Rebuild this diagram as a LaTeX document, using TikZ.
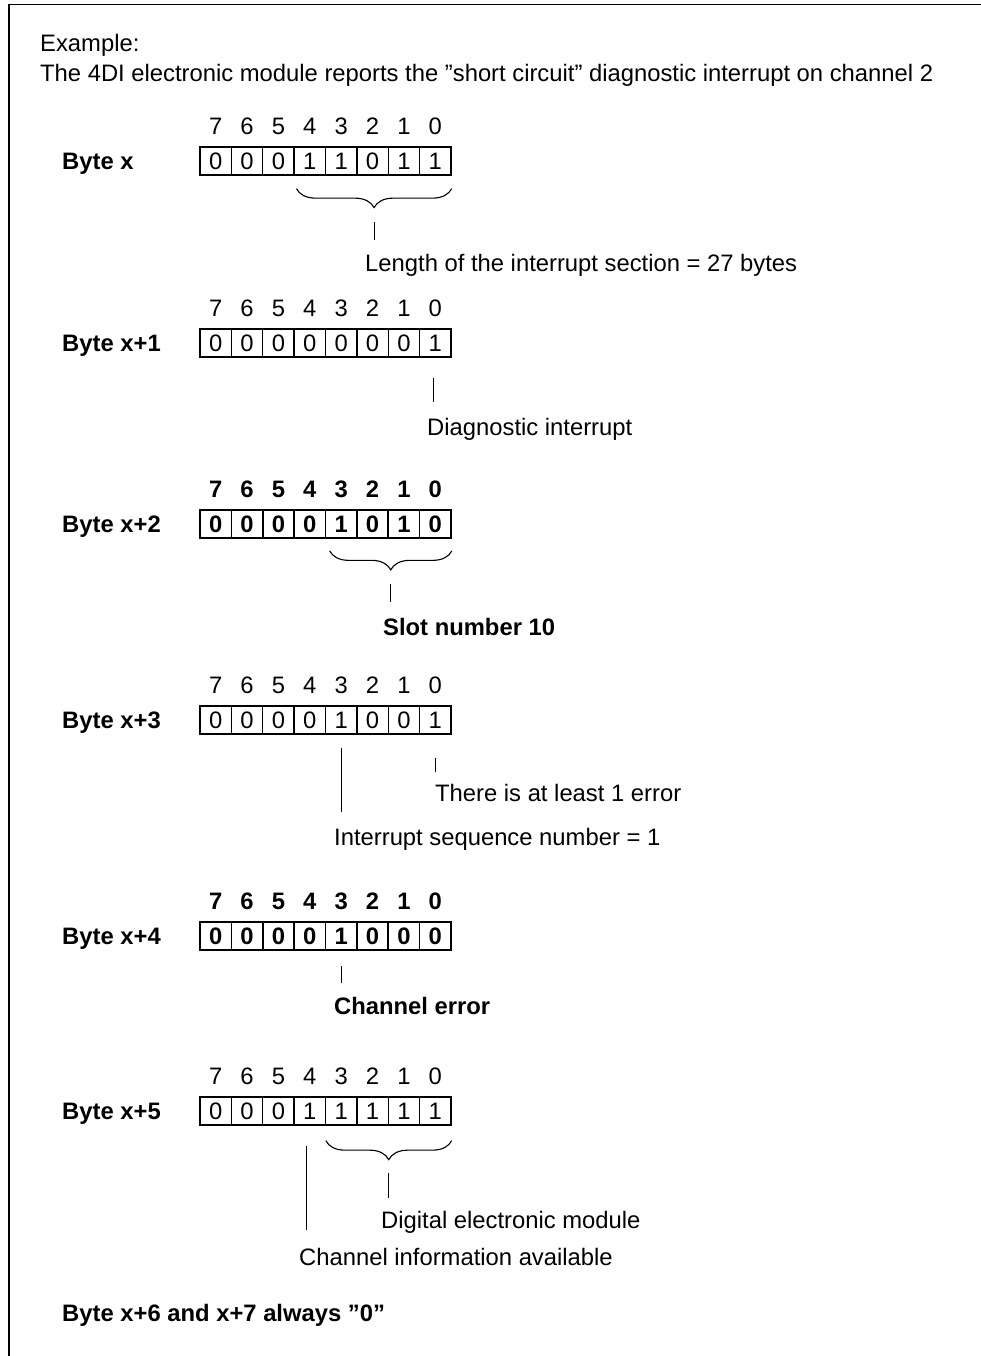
\documentclass[tikz,border=0pt]{standalone}
\usepackage{fontspec}
\setmainfont{Liberation Sans}
\usetikzlibrary{decorations.pathreplacing,calc}
\newcommand\fnt{\fontsize{23.8}{28}\selectfont}
\newcommand\byterow[6]{%
  \node[btxt] (#1l) at (62,#2+8.5) {#5};
  \foreach \b [count=\i from 0] in {#3} {
    \pgfmathtruncatemacro\bitn{7-\i}
    \node[cell,line width=#6,font={\fnt#4}] (#1c\bitn) at ({200+31.375*(\i+0.5)},#2) {\b};
    \node[hdr,font={\fnt#4}] (#1h\bitn) at ({200+31.375*(\i+0.5)},#2-35) {\bitn};
  }
}
\begin{document}
\begin{tikzpicture}[x=1pt,y=-1pt,
  txt/.style={inner sep=0pt,anchor=base west,font=\fnt},
  btxt/.style={inner sep=0pt,anchor=base west,font=\fnt\bfseries},
  cell/.style={draw,minimum width=31.375pt,minimum height=28pt,inner sep=0pt},
  hdr/.style={inner sep=0pt},
  conn/.style={line width=1.1pt},
  brc/.style={decorate,decoration={brace,mirror,amplitude=19pt},line width=1.1pt}]
\useasboundingbox (0,0) rectangle (981,1356);
% frame
\draw[line width=1.5pt] (9,1356) -- (9,4.5) -- (981,4.5);
\node[txt] (ex) at (40,51.5) {Example:};
\node[txt] (intro) at (40,81.5) {The 4DI electronic module reports the ”short circuit” diagnostic interrupt on channel 2};

% Byte x
\byterow{a}{161}{0,0,0,1,1,0,1,1}{}{Byte x}{1.3pt}
\draw[brc] ($(ac4.south west)+(3,13)$) coordinate (abs) -- ($(ac0.south east)+(0,13)$) coordinate (abe);
\coordinate (atip) at ($(abs)!0.5!(abe)+(0,19)$);
\node[txt] (al) at (365,271.5) {Length of the interrupt section = 27 bytes};
\draw[conn] ($(atip)+(0,14)$) -- ($(atip |- al.north)+(0,-14)$);

% Byte x+1
\byterow{b}{343}{0,0,0,0,0,0,0,1}{}{Byte x+1}{1.3pt}
\node[txt] (bl) at (427,435.5) {Diagnostic interrupt};
\draw[conn] ($(bc0.south)+(-2,20)$) -- ($(bc0.south |- bl.north)+(-2,-16)$);

% Byte x+2
\byterow{c}{524}{0,0,0,0,1,0,1,0}{\bfseries}{Byte x+2}{1.7pt}
\draw[brc] ($(cc3.south west)+(5,12)$) coordinate (cbs) -- ($(cc0.south east)+(0,12)$) coordinate (cbe);
\coordinate (ctip) at ($(cbs)!0.5!(cbe)+(0,19)$);
\node[btxt] (cl) at (383,635.5) {Slot number 10};
\draw[conn] ($(ctip)+(0,14)$) -- ($(ctip |- cl.north)+(0,-16)$);

% Byte x+3
\byterow{d}{720}{0,0,0,0,1,0,0,1}{}{Byte x+3}{1.3pt}
\node[txt] (dl0) at (435,801.5) {There is at least 1 error};
\node[txt] (dl3) at (334,845.5) {Interrupt sequence number = 1};
\draw[conn] ($(dc0.south)+(0,23)$) -- ($(dc0.south |- dl0.north)+(0,-12)$);
\draw[conn] ($(dc3.south)+(0,13)$) -- ($(dc3.south |- dl3.north)+(0,-16)$);

% Byte x+4
\byterow{e}{936}{0,0,0,0,1,0,0,0}{\bfseries}{Byte x+4}{1.7pt}
\node[btxt] (el) at (334,1014.5) {Channel error};
\draw[conn] ($(ec3.south)+(0,15)$) -- ($(ec3.south |- el.north)+(0,-14)$);

% Byte x+5
\byterow{f}{1111}{0,0,0,1,1,1,1,1}{}{Byte x+5}{1.3pt}
\draw[brc] ($(fc3.south west)+(1,15)$) coordinate (fbs) -- ($(fc0.south east)+(0,15)$) coordinate (fbe);
\coordinate (ftip) at ($(fbs)!0.5!(fbe)+(0,19)$);
\node[txt] (fl0) at (381,1228.5) {Digital electronic module};
\node[txt] (fl4) at (299,1265.5) {Channel information available};
\draw[conn] ($(ftip)+(0,13)$) -- ($(ftip |- fl0.north)+(0,-13)$);
\draw[conn] ($(fc4.south)+(-3,20)$) -- ($(fc4.south |- fl4.north)+(-3,-18)$);

\node[btxt] (last) at (62,1321.5) {Byte x+6 and x+7 always ”0”};
\end{tikzpicture}
\end{document}
